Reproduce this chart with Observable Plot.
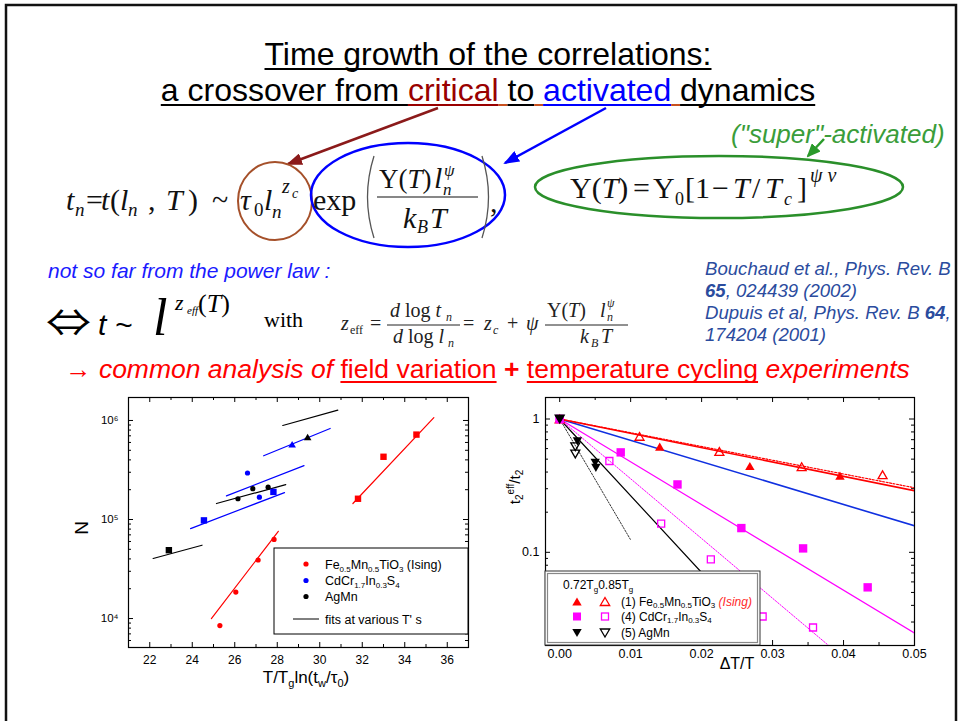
<!DOCTYPE html>
<html>
<head>
<meta charset="utf-8">
<script src="https://cdn.jsdelivr.net/npm/d3@7"></script>
<script src="https://cdn.jsdelivr.net/npm/@observablehq/plot@0.6"></script>
<style>
  html, body { margin: 0; padding: 0; background: #fff; }
  #slide { position: relative; width: 960px; height: 721px; overflow: hidden;
           font-family: "Liberation Sans", Arial, sans-serif; color: #000; }
  .abs { position: absolute; white-space: nowrap; line-height: normal; }
  .title { left: 0; width: 976px; text-align: center; font-size: 32px; }
  .u { text-decoration: underline; text-decoration-skip-ink: none; text-decoration-thickness: 2px; text-underline-offset: 3px; }
  #growth, #cycling { position: absolute; z-index: 1; }
  #notes { position: absolute; left: 0; top: 0; z-index: 3; pointer-events: none; }
  #redline { left: 65px; top: 354px; font-size: 26.5px; color: #ff0000; }
</style>
</head>
<body>
<div id="slide">
  <div class="abs title" style="top:36px"><span class="u">Time growth of the correlations:</span></div>
  <div class="abs title" style="top:72px"><span class="u" style="text-decoration-color:#000">a crossover from </span><span class="u" style="color:#990000;text-decoration-color:#990000">critical</span><span class="u" style="text-decoration-color:#c8501e"> </span><span class="u">to</span><span class="u" style="text-decoration-color:#c8501e"> </span><span class="u" style="color:#0000ff;text-decoration-color:#0000ff">activated</span><span class="u" style="text-decoration-color:#c8501e"> </span><span class="u">dynamics</span></div>
  <div class="abs" id="redline">→ <i>common analysis of </i><span class="u">field variation</span> <b>+</b> <span class="u">temperature cycling</span> <i>experiments</i></div>
  <div id="growth" style="left:60px;top:392px"></div>
  <div id="cycling" style="left:490px;top:392px"></div>

  <svg id="notes" width="960" height="721" viewBox="0 0 960 721">
    <defs>
      <marker id="headCrit" markerUnits="userSpaceOnUse" markerWidth="16" markerHeight="12" refX="14" refY="6" orient="auto"><path d="M0,0 L16,6 L0,12 Z" fill="#8b1a1a"/></marker>
      <marker id="headAct" markerUnits="userSpaceOnUse" markerWidth="16" markerHeight="12" refX="14" refY="6" orient="auto"><path d="M0,0 L16,6 L0,12 Z" fill="#0000ff"/></marker>
      <marker id="headSuper" markerUnits="userSpaceOnUse" markerWidth="14" markerHeight="12" refX="12" refY="6" orient="auto"><path d="M0,0 L14,6 L0,12 Z" fill="#2a9a2a"/></marker>
    </defs>
    <!-- slide frame -->
    <rect x="6" y="5" width="950" height="740" fill="none" stroke="#111" stroke-width="2.5"/>

    <!-- arrows from the title words to the two factors -->
    <line x1="438" y1="108" x2="288" y2="164" stroke="#8b1a1a" stroke-width="2.5" marker-end="url(#headCrit)"/>
    <line x1="606" y1="108" x2="505" y2="163" stroke="#0000ff" stroke-width="2.5" marker-end="url(#headAct)"/>
    <line x1="824" y1="139" x2="808" y2="156" stroke="#2a9a2a" stroke-width="2.5" marker-end="url(#headSuper)"/>

    <ellipse cx="275" cy="201" rx="37" ry="39" fill="none" stroke="#a5502a" stroke-width="2"/>
    <ellipse cx="408" cy="195" rx="97" ry="52" fill="none" stroke="#0000ff" stroke-width="2.5"/>
    <ellipse cx="719" cy="187" rx="184" ry="31" fill="none" stroke="#2a8f2a" stroke-width="2.5"/>

    <!-- t_n = t(l_n,T) ~ tau0 l_n^zc exp(Y(T) l_n^psi / kB T) -->
    <g font-family="Liberation Serif, serif" font-size="30" fill="#111">
      <text x="66" y="210" font-style="italic">t</text>
      <text x="75" y="216" font-size="19" font-style="italic">n</text>
      <text x="86" y="210">=</text>
      <text x="101" y="210" font-style="italic">t</text>
      <text x="110" y="210">(</text>
      <text x="120" y="210" font-style="italic">l</text>
      <text x="128" y="216" font-size="19" font-style="italic">n</text>
      <text x="148" y="210">,</text>
      <text x="166" y="210" font-style="italic">T</text>
      <text x="188" y="210">)</text>
      <text x="212" y="210">~</text>
      <text x="240" y="210" font-style="italic">τ</text>
      <text x="254" y="216" font-size="19">0</text>
      <text x="264" y="210" font-style="italic">l</text>
      <text x="272" y="218" font-size="19" font-style="italic">n</text>
      <text x="282" y="193" font-size="20" font-style="italic">z</text>
      <text x="292" y="198" font-size="14" font-style="italic">c</text>
      <text x="313" y="210">exp</text>
      <path d="M374,156 Q361,197 374,238" fill="none" stroke="#555" stroke-width="1.3"/>
      <text x="379" y="188" font-size="27">Υ(<tspan font-style="italic">T</tspan>)</text>
      <text x="434" y="188" font-style="italic">l</text>
      <text x="444" y="176" font-size="17" font-style="italic">ψ</text>
      <text x="443" y="195" font-size="17" font-style="italic">n</text>
      <line x1="377" y1="197" x2="478" y2="197" stroke="#111" stroke-width="1.2"/>
      <text x="403" y="228" font-style="italic">k</text>
      <text x="417" y="233" font-size="18" font-style="italic">B</text>
      <text x="430" y="228" font-style="italic">T</text>
      <path d="M482,156 Q495,197 482,238" fill="none" stroke="#555" stroke-width="1.3"/>
      <text x="490" y="212">,</text>
    </g>

    <!-- Y(T) = Y0 [1 - T/Tc]^(psi nu) -->
    <text x="731" y="143" font-family="Liberation Sans, Arial, sans-serif" font-size="26" font-style="italic" fill="#3a9d3a">("super"-activated)</text>
    <g font-family="Liberation Serif, serif" font-size="30" fill="#111">
      <text x="570" y="198">Υ(<tspan font-style="italic">T</tspan>)</text>
      <text x="633" y="198">=</text>
      <text x="653" y="198">Υ</text>
      <text x="675" y="205" font-size="18">0</text>
      <text x="685" y="198">[</text>
      <text x="695" y="198">1</text>
      <text x="712" y="198">−</text>
      <text x="733" y="198" font-style="italic">T</text>
      <text x="752" y="198">/</text>
      <text x="765" y="198" font-style="italic">T</text>
      <text x="784" y="205" font-size="18" font-style="italic">c</text>
      <text x="797" y="198">]</text>
      <text x="810" y="182" font-size="20" font-style="italic">ψ ν</text>
    </g>

    <text x="48" y="278" font-family="Liberation Sans, Arial, sans-serif" font-size="21" font-style="italic" fill="#1a1aff">not so far from the power law :</text>

    <!-- power-law form -->
    <text x="46" y="336" font-family="Noto Sans CJK JP, DejaVu Sans, sans-serif" font-size="38" textLength="45" lengthAdjust="spacingAndGlyphs" fill="#000">⇔</text>
    <g font-family="Liberation Sans, Arial, sans-serif" font-style="italic" fill="#000">
      <text x="98" y="335" font-size="30">t ~</text>
    </g>
    <g font-family="Liberation Serif, serif" fill="#000">
      <text x="153" y="335" font-size="52" font-style="italic">l</text>
      <text x="175" y="310" font-size="22" font-style="italic">z</text>
      <text x="187" y="314" font-size="11" font-style="italic">eff</text>
      <text x="198" y="312" font-size="26">(<tspan font-style="italic">T</tspan>)</text>
      <text x="264" y="327" font-size="22">with</text>
    </g>
    <g font-family="Liberation Serif, serif" font-size="20" fill="#222">
      <text x="341" y="330" font-style="italic">z</text>
      <text x="350" y="334" font-size="12">eff</text>
      <text x="370" y="330">=</text>
      <text x="390" y="317"><tspan font-style="italic">d</tspan> log <tspan font-style="italic">t</tspan></text>
      <text x="446" y="321" font-size="12" font-style="italic">n</text>
      <line x1="387" y1="325" x2="460" y2="325" stroke="#222" stroke-width="1"/>
      <text x="393" y="343"><tspan font-style="italic">d</tspan> log <tspan font-style="italic">l</tspan></text>
      <text x="448" y="347" font-size="12" font-style="italic">n</text>
      <text x="463" y="330">=</text>
      <text x="484" y="330" font-style="italic">z</text>
      <text x="493" y="334" font-size="12" font-style="italic">c</text>
      <text x="507" y="330">+</text>
      <text x="526" y="330" font-style="italic">ψ</text>
      <text x="547" y="317">Υ(<tspan font-style="italic">T</tspan>)</text>
      <text x="600" y="317" font-style="italic">l</text>
      <text x="607" y="307" font-size="12" font-style="italic">ψ</text>
      <text x="607" y="321" font-size="12" font-style="italic">n</text>
      <line x1="545" y1="325" x2="628" y2="325" stroke="#222" stroke-width="1"/>
      <text x="580" y="343" font-style="italic">k</text>
      <text x="591" y="347" font-size="12" font-style="italic">B</text>
      <text x="601" y="343" font-style="italic">T</text>
    </g>

    <!-- references -->
    <g font-family="Liberation Sans, Arial, sans-serif" font-size="18.6" font-style="italic" fill="#2b4c9e">
      <text x="705" y="275">Bouchaud et al., Phys. Rev. B</text>
      <text x="705" y="297"><tspan font-weight="bold">65</tspan>, 024439 (2002)</text>
      <text x="705" y="319">Dupuis et al, Phys. Rev. B <tspan font-weight="bold">64</tspan>,</text>
      <text x="705" y="341">174204 (2001)</text>
    </g>

    <!-- axis titles -->
    <g font-family="Liberation Sans, Arial, sans-serif" fill="#000">
      <text transform="translate(88,528) rotate(-90)" text-anchor="middle" font-size="19">N</text>
      <text x="306" y="683" text-anchor="middle" font-size="17">T/T<tspan font-size="11" dy="4">g</tspan><tspan dy="-4">ln(t</tspan><tspan font-size="11" dy="4">w</tspan><tspan dy="-4">/τ</tspan><tspan font-size="11" dy="4">0</tspan><tspan dy="-4">)</tspan></text>
      <text transform="translate(520,487) rotate(-90)" text-anchor="middle" font-size="15">t<tspan font-size="10" dy="3">2</tspan><tspan font-size="10" dy="-9">eff</tspan><tspan dy="6">/t</tspan><tspan font-size="10" dy="3">2</tspan></text>
      <text x="737" y="669" text-anchor="middle" font-size="16">ΔT/T</text>
    </g>

    <!-- legend of the growth chart -->
    <g font-family="Liberation Sans, Arial, sans-serif" font-size="12.5" fill="#000">
      <rect x="274" y="548" width="194" height="86" fill="#fff" stroke="#000" stroke-width="1"/>
      <circle cx="306" cy="564" r="2.6" fill="#ff0000"/>
      <circle cx="306" cy="580.5" r="2.6" fill="#0000ff"/>
      <circle cx="306" cy="596.5" r="2.6" fill="#000"/>
      <line x1="293" y1="619" x2="319" y2="619" stroke="#000" stroke-width="1"/>
      <text x="325" y="568.5">Fe<tspan font-size="8" dy="3">0.5</tspan><tspan dy="-3">Mn</tspan><tspan font-size="8" dy="3">0.5</tspan><tspan dy="-3">TiO</tspan><tspan font-size="8" dy="3">3</tspan><tspan dy="-3"> (Ising)</tspan></text>
      <text x="325" y="585">CdCr<tspan font-size="8" dy="3">1.7</tspan><tspan dy="-3">In</tspan><tspan font-size="8" dy="3">0.3</tspan><tspan dy="-3">S</tspan><tspan font-size="8" dy="3">4</tspan></text>
      <text x="325" y="601">AgMn</text>
      <text x="325" y="623.5">fits at various T'  s</text>
    </g>

    <!-- legend of the cycling chart -->
    <g font-family="Liberation Sans, Arial, sans-serif" font-size="12" fill="#000">
      <rect x="545" y="571" width="215" height="74" fill="#fff" stroke="#333" stroke-width="1"/>
      <rect x="547.5" y="573.5" width="210" height="69" fill="none" stroke="#888" stroke-width="1.2"/>
      <text x="563" y="589">0.72T<tspan font-size="8" dy="3">g</tspan><tspan dy="-3">0.85T</tspan><tspan font-size="8" dy="3">g</tspan></text>
      <path d="M577,597.5 L581.7,605.5 L572.3,605.5 Z" fill="#ff0000"/>
      <path d="M605,597.5 L609.7,605.5 L600.3,605.5 Z" fill="none" stroke="#ff0000" stroke-width="1.3"/>
      <text x="621" y="606">(1) Fe<tspan font-size="8" dy="2">0.5</tspan><tspan dy="-2">Mn</tspan><tspan font-size="8" dy="2">0.5</tspan><tspan dy="-2">TiO</tspan><tspan font-size="8" dy="2">3</tspan><tspan dy="-2" fill="#ff2a2a" font-style="italic"> (Ising)</tspan></text>
      <rect x="573" y="612.5" width="8" height="8" fill="#ff00ff"/>
      <rect x="601.5" y="613" width="7" height="7" fill="none" stroke="#ff00ff" stroke-width="1.3"/>
      <text x="621" y="621">(4) CdCr<tspan font-size="8" dy="2">1.7</tspan><tspan dy="-2">In</tspan><tspan font-size="8" dy="2">0.3</tspan><tspan dy="-2">S</tspan><tspan font-size="8" dy="2">4</tspan></text>
      <path d="M577,637 L581.7,629 L572.3,629 Z" fill="#000"/>
      <path d="M605,637 L609.7,629 L600.3,629 Z" fill="none" stroke="#000" stroke-width="1.3"/>
      <text x="621" y="637">(5) AgMn</text>
    </g>
  </svg>
</div>

<script>
// ---------- growth of the number of correlated spins, N vs T/Tg ln(tw/tau0) ----------
// Fe0.5Mn0.5TiO3 (Ising)
const feCircleX = [25.3, 26.05, 27.1, 27.85];
const feCircleN = [8500, 18500, 39000, 63000];
const feSquareX = [31.8, 33.0, 34.55];
const feSquareN = [162000, 430000, 720000];
// CdCr1.7In0.3S4
const cdSquareX = [24.55, 27.82];
const cdSquareN = [98000, 190000];
const cdCircleX = [26.6, 27.16];
const cdCircleN = [295000, 168000];
const cdTriangleX = [28.7];
const cdTriangleN = [575000];
// AgMn
const agCircleX = [26.15, 26.85, 27.57];
const agCircleN = [162000, 205000, 212000];
const agSquareX = [22.9];
const agSquareN = [49000];
const agTriangleX = [29.43];
const agTriangleN = [680000];
// fits at various T: [x0, N0, x1, N1]
const feFits = [[24.9, 10000, 28.05, 76000], [31.56, 145000, 35.37, 1070000]];
const cdFits = [[23.92, 81000, 28.34, 187000], [25.61, 173000, 29.26, 350000], [27.36, 440000, 30.49, 830000]];
const agFits = [[22.16, 40400, 24.46, 55000], [25.14, 145000, 28.4, 225000], [28.26, 890000, 30.85, 1270000]];
// axis ticks
const growthMajorX = [22, 24, 26, 28, 30, 32, 34, 36];
const growthMinorX = [21, 23, 25, 27, 29, 31, 33, 35, 37];
const growthDecades = [1e4, 1e5, 1e6];
const growthDecadeLabels = ["10⁴", "10⁵", "10⁶"];

// ---------- temperature cycling, t2eff/t2 vs dT/T ----------
// (1) Fe0.5Mn0.5TiO3: filled 0.72Tg, open 0.85Tg
const feFilledDT = [0, 0.0141, 0.0268, 0.0395];
const feFilledR = [1, 0.62, 0.444, 0.376];
const feOpenDT = [0, 0.01125, 0.0225, 0.0341, 0.0455];
const feOpenR = [1, 0.741, 0.571, 0.439, 0.382];
// (4) CdCr1.7In0.3S4
const cdFilledDT = [0, 0.0086, 0.0166, 0.0256, 0.0343, 0.0434];
const cdFilledR = [1, 0.562, 0.323, 0.152, 0.107, 0.0546];
const cdOpenDT = [0, 0.0070, 0.0143, 0.0213, 0.0286, 0.0357];
const cdOpenR = [1, 0.484, 0.164, 0.0885, 0.033, 0.0273];
// (5) AgMn
const agFilledDT = [0, 0.0025, 0.0050, 0.0051];
const agFilledR = [1, 0.68, 0.47, 0.43];
const agOpenDT = [0, 0.0022, 0.0022];
const agOpenR = [1, 0.62, 0.546];
// exponential fits: [dT/T, ratio] end points
const fitFeFilled = [[0, 1], [0.05, 0.29]];
const fitFeOpen = [[0, 1], [0.05, 0.305]];
const fitBlue = [[0, 1], [0.05, 0.158]];
const fitCdFilled = [[0, 1], [0.05, 0.0248]];
const fitCdOpen = [[0, 1], [0.0379, 0.02]];
const fitAgFilled = [[0, 1], [0.027, 0.0279]];
const fitAgOpen = [[0, 1], [0.01, 0.124]];
// axis ticks
const cycleMajorX = [0, 0.01, 0.02, 0.03, 0.04, 0.05];
const cycleMinorX = [0.005, 0.015, 0.025, 0.035, 0.045];
const cycleMajorY = [0.1, 1];
const cycleMajorLabels = ["0.1", "1"];

// ---------- helpers ----------
const zip = (xs, ys) => xs.map((x, i) => ({x, y: ys[i]}));
const segs = (list) => list.flatMap((s, i) => [{x: s[0], y: s[1], id: i}, {x: s[2], y: s[3], id: i}]);
const pairs = (list) => list.map(([x, y]) => ({x, y}));

// marker shapes sized by r = half width
const shape = {
  up: {draw(c, s) { const r = Math.sqrt(s / Math.PI), h = r * 1.732; c.moveTo(0, -h / 2); c.lineTo(r, h / 2); c.lineTo(-r, h / 2); c.closePath(); }},
  down: {draw(c, s) { const r = Math.sqrt(s / Math.PI), h = r * 1.732; c.moveTo(0, h / 2); c.lineTo(r, -h / 2); c.lineTo(-r, -h / 2); c.closePath(); }},
  square: {draw(c, s) { const r = Math.sqrt(s / Math.PI); c.rect(-r, -r, 2 * r, 2 * r); }}
};

function minorLog(lo, hi) {
  const out = [];
  for (let e = Math.floor(Math.log10(lo)); e <= Math.ceil(Math.log10(hi)); e++)
    for (let m = 2; m <= 9; m++) { const v = m * 10 ** e; if (v > lo && v < hi) out.push(v); }
  return out;
}

function frameTicks(xMaj, xMin, yMaj, yMin, iw, ih, lMaj, lMin) {
  const id = d => d;
  return [
    Plot.tickX(xMaj, {x: id, insetTop: ih - lMaj, stroke: "#000"}),
    Plot.tickX(xMin, {x: id, insetTop: ih - lMin, stroke: "#000"}),
    Plot.tickX(xMaj, {x: id, insetBottom: ih - lMaj, stroke: "#000"}),
    Plot.tickX(xMin, {x: id, insetBottom: ih - lMin, stroke: "#000"}),
    Plot.tickY(yMaj, {y: id, insetRight: iw - lMaj, stroke: "#000"}),
    Plot.tickY(yMin, {y: id, insetRight: iw - lMin, stroke: "#000"}),
    Plot.tickY(yMaj, {y: id, insetLeft: iw - lMaj, stroke: "#000"}),
    Plot.tickY(yMin, {y: id, insetLeft: iw - lMin, stroke: "#000"})
  ];
}

const baseStyle = {fontFamily: "Liberation Sans, Arial, sans-serif", color: "#000", background: "transparent", overflow: "visible"};

// ---------- growth chart ----------
{
  const W = 415, H = 296, m = {l: 68, t: 5, r: 7, b: 41};
  const iw = W - m.l - m.r, ih = H - m.t - m.b;
  const yDom = [5100, 1.706e6];
  const chart = Plot.plot({
    width: W, height: H, marginLeft: m.l, marginTop: m.t, marginRight: m.r, marginBottom: m.b,
    x: {domain: [21, 37], axis: null},
    y: {type: "log", domain: yDom, axis: null},
    style: {...baseStyle, fontSize: "12px"},
    marks: [
      ...frameTicks(growthMajorX, growthMinorX, growthDecades, minorLog(yDom[0], yDom[1]), iw, ih, 5, 3),
      Plot.frame({stroke: "#000", strokeWidth: 1.2}),
      Plot.text(growthMajorX, {x: d => d, frameAnchor: "bottom", dy: 13, lineAnchor: "middle", text: d => String(d), fontSize: 12}),
      Plot.text(growthDecades, {y: d => d, frameAnchor: "left", dx: -10, textAnchor: "end", lineAnchor: "middle", text: (d, i) => growthDecadeLabels[i], fontSize: 11.5}),
      Plot.line(segs(feFits), {x: "x", y: "y", z: "id", stroke: "#ff0000", strokeWidth: 1.2}),
      Plot.line(segs(cdFits), {x: "x", y: "y", z: "id", stroke: "#0000ff", strokeWidth: 1.2}),
      Plot.line(segs(agFits), {x: "x", y: "y", z: "id", stroke: "#000", strokeWidth: 1.2}),
      Plot.dot(zip(feCircleX, feCircleN), {x: "x", y: "y", r: 2.6, fill: "#ff0000"}),
      Plot.dot(zip(feSquareX, feSquareN), {x: "x", y: "y", r: 3.2, symbol: shape.square, fill: "#ff0000"}),
      Plot.dot(zip(cdCircleX, cdCircleN), {x: "x", y: "y", r: 2.6, fill: "#0000ff"}),
      Plot.dot(zip(cdSquareX, cdSquareN), {x: "x", y: "y", r: 3.2, symbol: shape.square, fill: "#0000ff"}),
      Plot.dot(zip(cdTriangleX, cdTriangleN), {x: "x", y: "y", r: 3.8, symbol: shape.up, fill: "#0000ff"}),
      Plot.dot(zip(agCircleX, agCircleN), {x: "x", y: "y", r: 2.6, fill: "#000"}),
      Plot.dot(zip(agSquareX, agSquareN), {x: "x", y: "y", r: 3.2, symbol: shape.square, fill: "#000"}),
      Plot.dot(zip(agTriangleX, agTriangleN), {x: "x", y: "y", r: 3.8, symbol: shape.up, fill: "#000"})
    ]
  });
  document.getElementById("growth").append(chart);
}

// ---------- cycling chart ----------
{
  const W = 430, H = 300, m = {l: 55, t: 5, r: 6, b: 47};
  const iw = W - m.l - m.r, ih = H - m.t - m.b;
  const yDom = [0.02, 1.45];
  const chart = Plot.plot({
    width: W, height: H, marginLeft: m.l, marginTop: m.t, marginRight: m.r, marginBottom: m.b,
    x: {domain: [-0.002, 0.05], axis: null},
    y: {type: "log", domain: yDom, axis: null},
    clip: true,
    style: {...baseStyle, fontSize: "12.5px"},
    marks: [
      ...frameTicks(cycleMajorX, cycleMinorX, cycleMajorY, minorLog(yDom[0], yDom[1]), iw, ih, 5, 3),
      Plot.frame({stroke: "#000", strokeWidth: 1.2}),
      Plot.text(cycleMajorX, {x: d => d, frameAnchor: "bottom", dy: 8, lineAnchor: "middle", text: d => d.toFixed(2), fontSize: 12.5, clip: false}),
      Plot.text(cycleMajorY, {y: d => d, frameAnchor: "left", dx: -6, textAnchor: "end", lineAnchor: "middle", text: (d, i) => cycleMajorLabels[i], fontSize: 12.5, clip: false}),
      Plot.line(pairs(fitAgOpen), {x: "x", y: "y", stroke: "#333", strokeWidth: 1, strokeDasharray: "1.5,1.5"}),
      Plot.line(pairs(fitAgFilled), {x: "x", y: "y", stroke: "#000", strokeWidth: 1.2}),
      Plot.line(pairs(fitCdOpen), {x: "x", y: "y", stroke: "#ff00ff", strokeWidth: 1, strokeDasharray: "1.5,1.5"}),
      Plot.line(pairs(fitCdFilled), {x: "x", y: "y", stroke: "#ff00ff", strokeWidth: 1.2}),
      Plot.line(pairs(fitBlue), {x: "x", y: "y", stroke: "#1030e0", strokeWidth: 1.6}),
      Plot.line(pairs(fitFeOpen), {x: "x", y: "y", stroke: "#ff0000", strokeWidth: 1.2, strokeDasharray: "2,1.5"}),
      Plot.line(pairs(fitFeFilled), {x: "x", y: "y", stroke: "#ff0000", strokeWidth: 1.6}),
      Plot.dot(zip(feOpenDT, feOpenR), {x: "x", y: "y", r: 4.5, symbol: shape.up, fill: "none", stroke: "#ff0000", strokeWidth: 1.3}),
      Plot.dot(zip(feFilledDT, feFilledR), {x: "x", y: "y", r: 4.7, symbol: shape.up, fill: "#ff0000"}),
      Plot.dot(zip(cdOpenDT, cdOpenR), {x: "x", y: "y", r: 3.5, symbol: shape.square, fill: "none", stroke: "#ff00ff", strokeWidth: 1.3}),
      Plot.dot(zip(cdFilledDT, cdFilledR), {x: "x", y: "y", r: 4.2, symbol: shape.square, fill: "#ff00ff"}),
      Plot.dot(zip(agOpenDT, agOpenR), {x: "x", y: "y", r: 4.5, symbol: shape.down, fill: "none", stroke: "#000", strokeWidth: 1.3}),
      Plot.dot(zip(agFilledDT, agFilledR), {x: "x", y: "y", r: 4.7, symbol: shape.down, fill: "#000"})
    ]
  });
  document.getElementById("cycling").append(chart);
}
</script>
</body>
</html>
